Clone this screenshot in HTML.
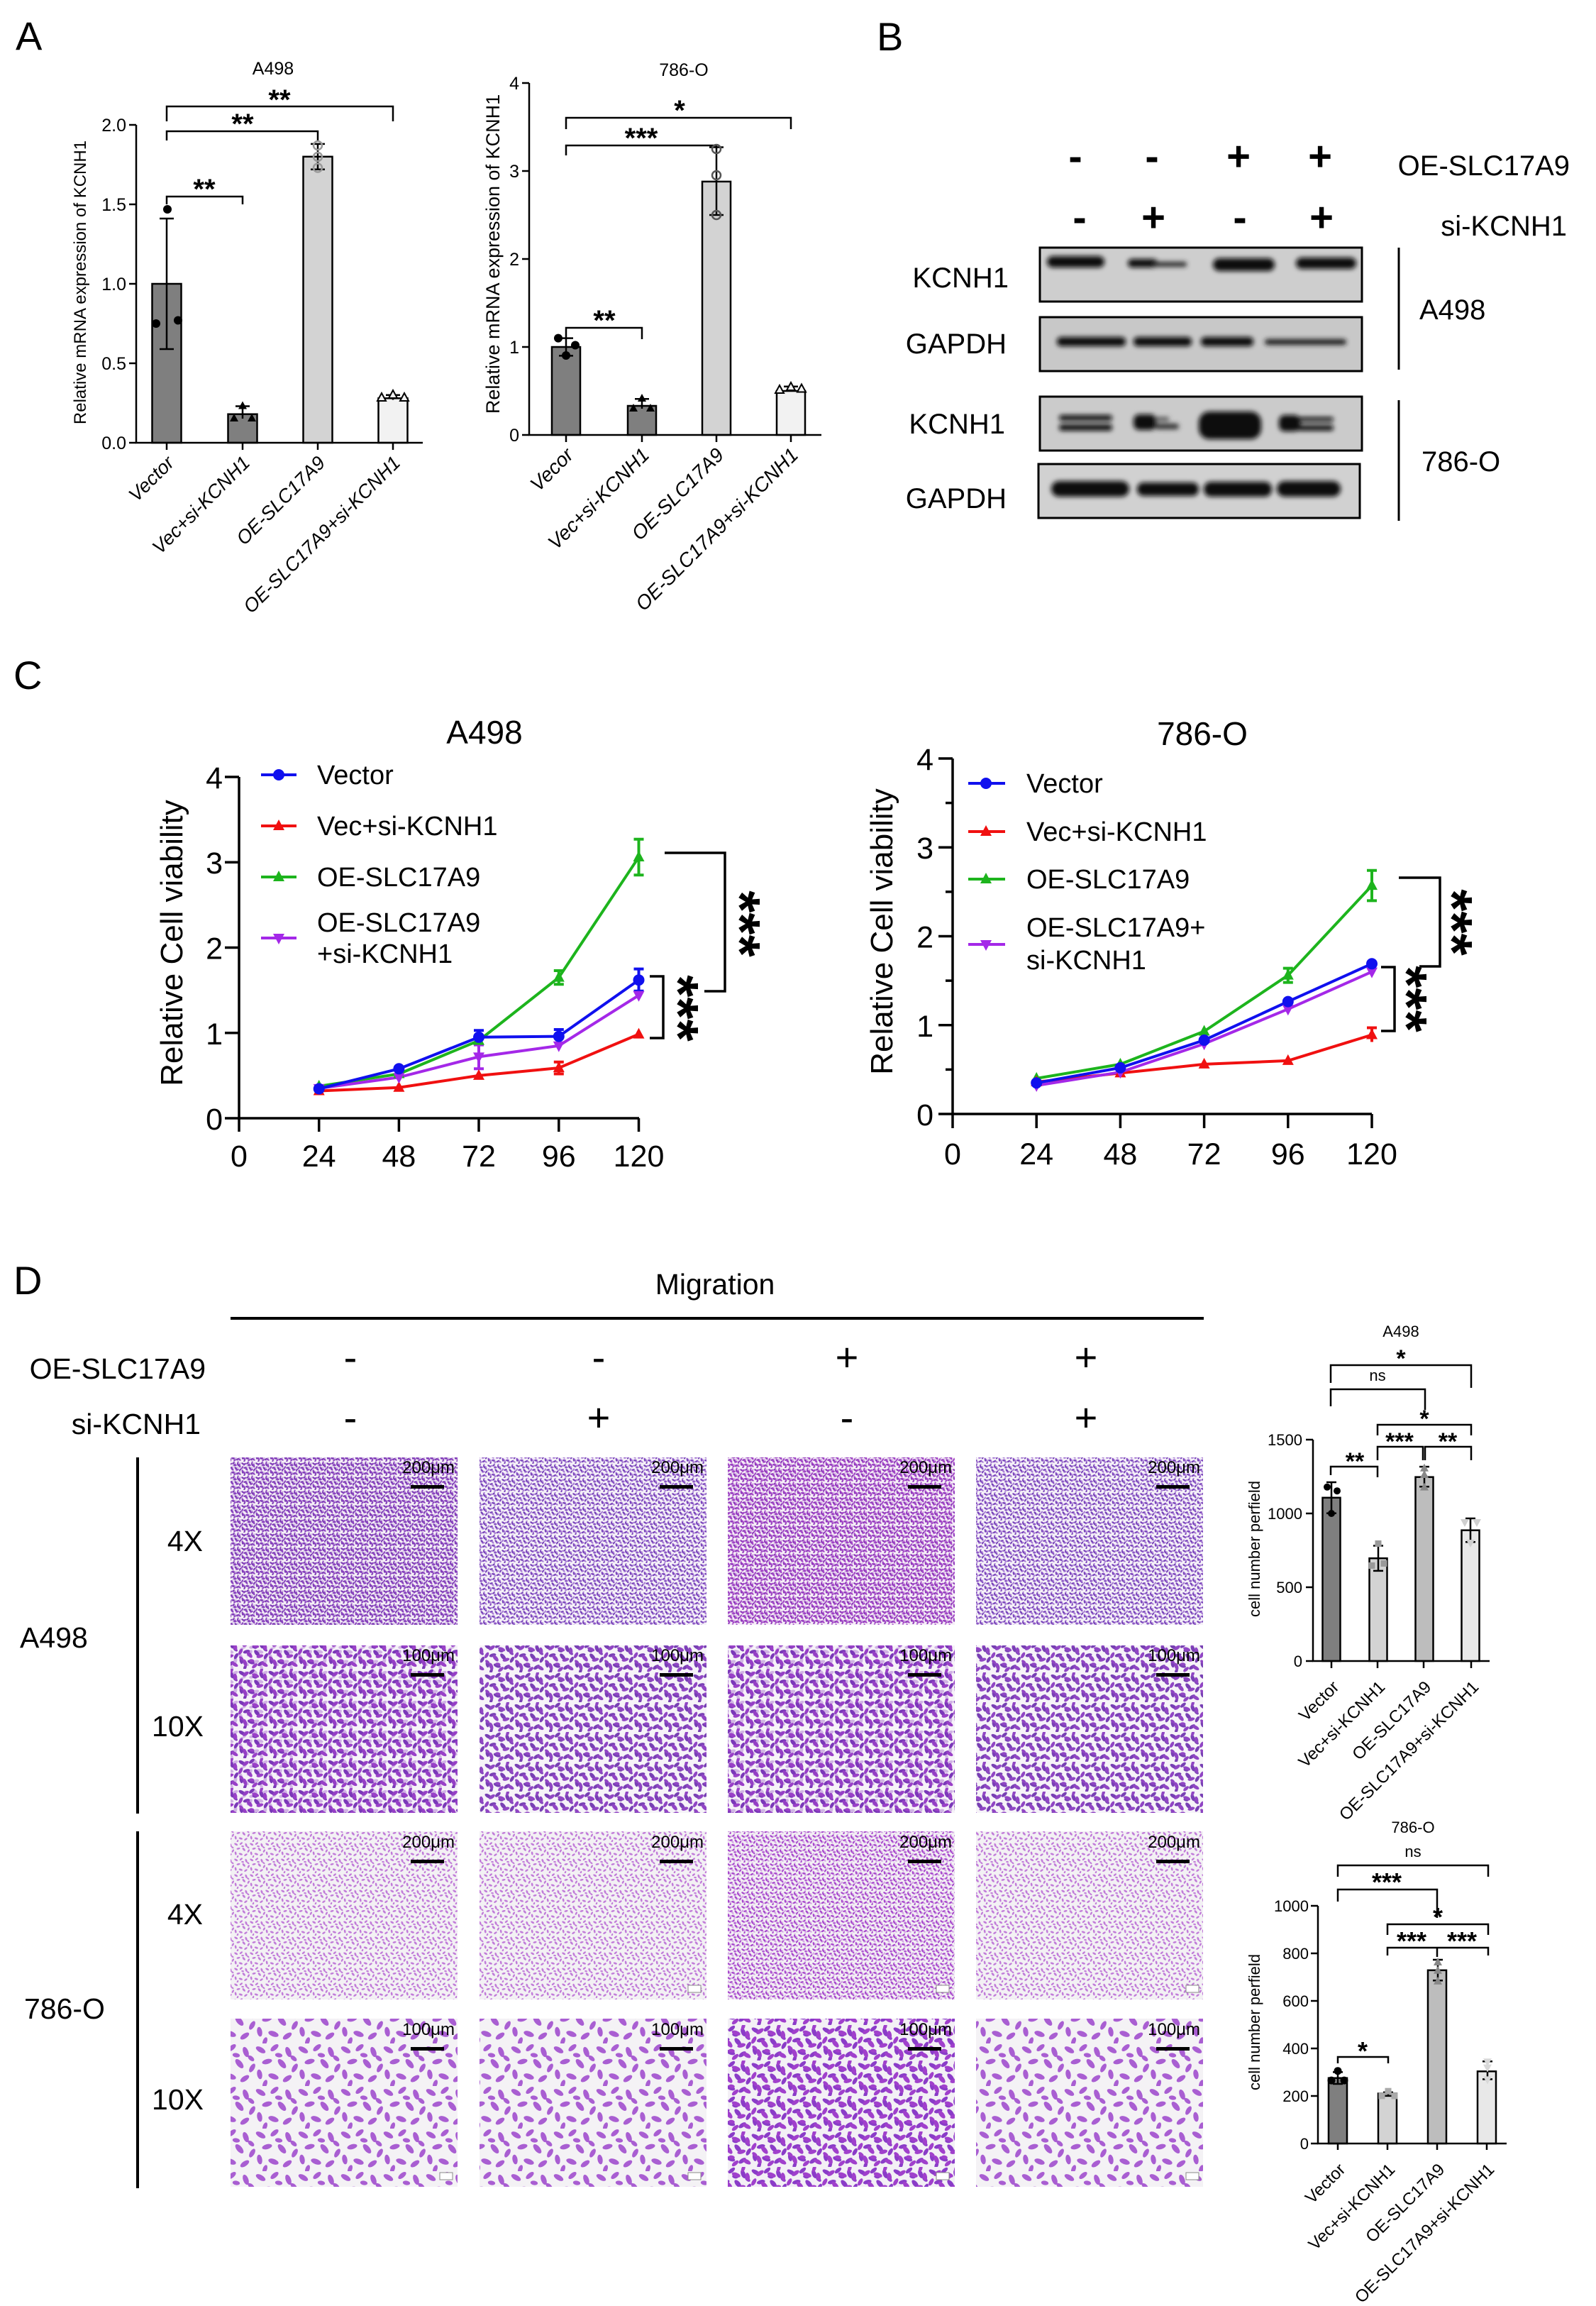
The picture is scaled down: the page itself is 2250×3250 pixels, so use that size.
<!DOCTYPE html>
<html><head><meta charset="utf-8"><style>
html,body{margin:0;padding:0;background:#fff}
svg{display:block}
text{font-family:"Liberation Sans",Arial,sans-serif;fill:#000}
</style></head><body>
<svg xmlns="http://www.w3.org/2000/svg" width="2250" height="3250" viewBox="0 0 2250 3250">
<defs>
<filter id="bl" x="-10%" y="-100%" width="120%" height="300%"><feGaussianBlur stdDeviation="3.5"/></filter>
<path id="tu" d="M0,-9 L8,6 L-8,6Z"/>
<path id="td" d="M0,9 L8,-6 L-8,-6Z"/>
<path id="ts" d="M0,-7 L6,4 L-6,4Z"/>
<path id="tds" d="M0,7 L6,-4 L-6,-4Z"/>
<g id="cl">
<ellipse cx="5" cy="6" rx="5" ry="2.4" transform="rotate(30 5 6)"/>
<ellipse cx="18" cy="4" rx="4.5" ry="2.2" transform="rotate(-40 18 4)"/>
<ellipse cx="31" cy="8" rx="5" ry="2.5" transform="rotate(70 31 8)"/>
<ellipse cx="11" cy="17" rx="4.8" ry="2.3" transform="rotate(-15 11 17)"/>
<ellipse cx="25" cy="19" rx="5.2" ry="2.6" transform="rotate(50 25 19)"/>
<ellipse cx="37" cy="23" rx="4.5" ry="2.2" transform="rotate(-60 37 23)"/>
<ellipse cx="4" cy="29" rx="4.6" ry="2.4" transform="rotate(80 4 29)"/>
<ellipse cx="17" cy="31" rx="5" ry="2.5" transform="rotate(20 17 31)"/>
<ellipse cx="30" cy="33" rx="4.8" ry="2.3" transform="rotate(-35 30 33)"/>
<ellipse cx="22" cy="11" rx="3.5" ry="2" transform="rotate(10 22 11)"/>
<ellipse cx="9" cy="38" rx="4" ry="2" transform="rotate(-70 9 38)"/>
<ellipse cx="36" cy="14" rx="3.5" ry="2" transform="rotate(40 36 14)"/>
</g>
<pattern id="pA4" width="40" height="40" patternUnits="userSpaceOnUse" patternTransform="scale(0.5)">
<rect width="40" height="40" fill="#f5eff7"/>
<use href="#cl" fill="#7b3bb4"/>
<use href="#cl" fill="#8e46c2" transform="matrix(-1,0,0,-1,40,40)"/>
<use href="#cl" fill="#7a3cb4" fill-opacity="0.3" transform="matrix(-1,0,0,1,40,0)"/>
</pattern>
<pattern id="pA4L" width="40" height="40" patternUnits="userSpaceOnUse" patternTransform="translate(7,3) scale(0.5)">
<rect width="40" height="40" fill="#f5f1f8"/>
<use href="#cl" fill="#7642b8"/>
<use href="#cl" fill="#8a50c6" fill-opacity="0.7" transform="matrix(-1,0,0,-1,40,40)"/>
</pattern>
<pattern id="pA4M" width="40" height="40" patternUnits="userSpaceOnUse" patternTransform="translate(3,9) scale(0.5)">
<rect width="40" height="40" fill="#f6eff7"/>
<use href="#cl" fill="#8a36b8"/>
<use href="#cl" fill="#a446c8" transform="matrix(-1,0,0,-1,40,40)"/>
<use href="#cl" fill="#9a40c0" fill-opacity="0.4" transform="matrix(-1,0,0,1,40,0)"/>
</pattern>
<pattern id="pA10" width="40" height="40" patternUnits="userSpaceOnUse" patternTransform="scale(1.05)">
<rect width="40" height="40" fill="#f6f2f8"/>
<use href="#cl" fill="#7a38b8"/>
<use href="#cl" fill="#9a40c8" transform="matrix(-1,0,0,-1,40,40)"/>
<use href="#cl" fill="#8a3cc0" fill-opacity="0.35" transform="matrix(-1,0,0,1,40,0)"/>
</pattern>
<pattern id="pA10L" width="40" height="40" patternUnits="userSpaceOnUse" patternTransform="translate(11,5) scale(1.05)">
<rect width="40" height="40" fill="#f6f3f8"/>
<use href="#cl" fill="#7840b4"/>
<use href="#cl" fill="#9046c4" transform="matrix(-1,0,0,-1,40,40)"/>
</pattern>
<pattern id="pB4" width="40" height="40" patternUnits="userSpaceOnUse" patternTransform="scale(0.55)">
<rect width="40" height="40" fill="#f3f1f4"/>
<use href="#cl" fill="#b055d0" fill-opacity="0.75"/>
</pattern>
<pattern id="pB4c" width="40" height="40" patternUnits="userSpaceOnUse" patternTransform="translate(5,5) scale(0.5)">
<rect width="40" height="40" fill="#f3f0f4"/>
<use href="#cl" fill="#a646cc"/>
<use href="#cl" fill="#b050d0" fill-opacity="0.45" transform="matrix(-1,0,0,-1,40,40)"/>
</pattern>
<pattern id="pB10" width="40" height="40" patternUnits="userSpaceOnUse" patternTransform="scale(1.5)">
<rect width="40" height="40" fill="#f4f2f5"/>
<use href="#cl" fill="#9c44cc" fill-opacity="0.85"/>
</pattern>
<pattern id="pB10c" width="40" height="40" patternUnits="userSpaceOnUse" patternTransform="translate(9,4) scale(1.25)">
<rect width="40" height="40" fill="#f3f0f5"/>
<use href="#cl" fill="#8a3cc8"/>
<use href="#cl" fill="#a040cc" transform="matrix(-1,0,0,-1,40,40)"/>
</pattern>
</defs>
<rect width="2250" height="3250" fill="#fff"/>

<!-- Panel letters -->
<text x="22" y="70" font-size="56">A</text>
<text x="1236" y="71" font-size="56">B</text>
<text x="19" y="971" font-size="56">C</text>
<text x="19" y="1824" font-size="56">D</text>

<!-- ============ Panel A left (A498) ============ -->
<text x="385" y="105" font-size="25" text-anchor="middle">A498</text>
<text transform="translate(121,398) rotate(-90)" font-size="24" text-anchor="middle">Relative mRNA expression of KCNH1</text>
<g font-size="25" text-anchor="end">
<text x="178" y="185">2.0</text><text x="178" y="297">1.5</text><text x="178" y="409">1.0</text><text x="178" y="521">0.5</text><text x="178" y="633">0.0</text>
</g>
<g stroke="#000" stroke-width="2.5">
<rect x="214.5" y="400" width="41" height="224" fill="#7f7f7f"/>
<rect x="321.5" y="583.7" width="41" height="40.3" fill="#7f7f7f"/>
<rect x="427.5" y="220.8" width="41" height="403.2" fill="#d3d3d3"/>
<rect x="533.5" y="561.3" width="41" height="62.7" fill="#f2f2f2"/>
</g>
<g stroke="#000" stroke-width="2.5" fill="none">
<path d="M192,176 V624 H596"/>
<path d="M182,176 H192 M182,288 H192 M182,400 H192 M182,512 H192 M182,624 H192"/>
<path d="M235,624 V634 M342,624 V634 M448,624 V634 M554,624 V634"/>
<path d="M235,308 V492 M225,308 H245 M225,492 H245"/>
<path d="M342,572.5 V590 M332,572.5 H352"/>
<path d="M448,202.9 V238.7 M438,202.9 H458 M438,238.7 H458"/>
<path d="M554,556.8 V563.5 M544,556.8 H564"/>
<path d="M235,288 V277 H342 V288"/>
<path d="M235,198 V185 H448 V199"/>
<path d="M235,171 V150 H554 V171"/>
</g>
<g fill="#000">
<circle cx="236" cy="295" r="6"/><circle cx="220" cy="456" r="6"/><circle cx="251" cy="451.5" r="6"/>
<use href="#ts" x="342" y="572.5"/><use href="#ts" x="330" y="590"/><use href="#ts" x="355" y="590"/>
</g>
<g fill="none" stroke="#999" stroke-width="2.5">
<circle cx="448" cy="205" r="6"/><circle cx="448" cy="221" r="6"/><circle cx="448" cy="236.5" r="6"/>
</g>
<g fill="#f2f2f2" stroke="#000" stroke-width="2">
<use href="#ts" x="538" y="561"/><use href="#ts" x="554" y="557"/><use href="#ts" x="570" y="561"/>
</g>
<g font-size="40" font-weight="bold" text-anchor="middle">
<text x="288" y="280">**</text><text x="342" y="188">**</text><text x="394" y="154">**</text>
</g>
<g font-size="27" font-style="italic" text-anchor="end">
<text transform="translate(247,654) rotate(-45)">Vector</text>
<text transform="translate(354,654) rotate(-45)">Vec+si-KCNH1</text>
<text transform="translate(460,654) rotate(-45)">OE-SLC17A9</text>
<text transform="translate(566,654) rotate(-45)">OE-SLC17A9+si-KCNH1</text>
</g>

<!-- ============ Panel A right (786-O) ============ -->
<text x="964" y="107" font-size="25" text-anchor="middle">786-O</text>
<text transform="translate(704,358) rotate(-90)" font-size="27" text-anchor="middle">Relative mRNA expression of KCNH1</text>
<g font-size="25" text-anchor="end">
<text x="732" y="126">4</text><text x="732" y="250">3</text><text x="732" y="374">2</text><text x="732" y="498">1</text><text x="732" y="622">0</text>
</g>
<g stroke="#000" stroke-width="2.5">
<rect x="778" y="489" width="40" height="124" fill="#7f7f7f"/>
<rect x="885" y="572" width="40" height="41" fill="#7f7f7f"/>
<rect x="990" y="255.9" width="40" height="357.1" fill="#d3d3d3"/>
<rect x="1095" y="551" width="40" height="62" fill="#f2f2f2"/>
</g>
<g stroke="#000" stroke-width="2.5" fill="none">
<path d="M746,117 V613 H1158"/>
<path d="M736,117 H746 M736,241 H746 M736,365 H746 M736,489 H746 M736,613 H746"/>
<path d="M798,613 V623 M905,613 V623 M1010,613 V623 M1115,613 V623"/>
<path d="M798,476.6 V501.4 M788,476.6 H808 M788,501.4 H808"/>
<path d="M905,562.2 V576 M895,562.2 H915"/>
<path d="M1010,207.5 V303 M1000,207.5 H1020 M1000,303 H1020"/>
<path d="M1115,544.8 V551 M1105,544.8 H1125"/>
<path d="M798,478 V462 H905 V478"/>
<path d="M798,219 V205 H1010 V207"/>
<path d="M798,182 V166 H1115 V182"/>
</g>
<g fill="#000">
<circle cx="787" cy="476.6" r="6"/><circle cx="798" cy="501" r="6"/><circle cx="811" cy="486.5" r="6"/>
<use href="#ts" x="905" y="562"/><use href="#ts" x="893" y="576"/><use href="#ts" x="917" y="576"/>
</g>
<g fill="none" stroke="#555" stroke-width="2.5">
<circle cx="1010" cy="210" r="6"/><circle cx="1010" cy="247" r="6"/><circle cx="1010" cy="303" r="6"/>
</g>
<g fill="#f2f2f2" stroke="#000" stroke-width="2">
<use href="#ts" x="1099" y="550"/><use href="#ts" x="1115" y="546"/><use href="#ts" x="1130" y="548.5"/>
</g>
<g font-size="40" font-weight="bold" text-anchor="middle">
<text x="852" y="465">**</text><text x="904" y="208">***</text><text x="958" y="169">*</text>
</g>
<g font-size="28" font-style="italic" text-anchor="end">
<text transform="translate(810,643) rotate(-45)">Vecor</text>
<text transform="translate(917,643) rotate(-45)">Vec+si-KCNH1</text>
<text transform="translate(1022,643) rotate(-45)">OE-SLC17A9</text>
<text transform="translate(1127,643) rotate(-45)">OE-SLC17A9+si-KCNH1</text>
</g>

<!-- ============ Panel B ============ -->
<g font-size="58" font-weight="bold" text-anchor="middle">
<text x="1516" y="240">-</text><text x="1624" y="240">-</text><text x="1746" y="240">+</text><text x="1861" y="240">+</text>
<text x="1522" y="326">-</text><text x="1626" y="326">+</text><text x="1748" y="326">-</text><text x="1863" y="326">+</text>
</g>
<g font-size="40">
<text x="2213" y="247" text-anchor="end">OE-SLC17A9</text>
<text x="2209" y="332" text-anchor="end">si-KCNH1</text>
<text x="1422" y="405" text-anchor="end">KCNH1</text>
<text x="1419" y="498" text-anchor="end">GAPDH</text>
<text x="1417" y="611" text-anchor="end">KCNH1</text>
<text x="1419" y="716" text-anchor="end">GAPDH</text>
<text x="2001" y="450">A498</text>
<text x="2004" y="664">786-O</text>
</g>
<g stroke="#000" stroke-width="3">
<rect x="1466" y="349" width="454" height="76" fill="#cecece"/>
<rect x="1466" y="447" width="454" height="76" fill="#c8c8c8"/>
<rect x="1466" y="559" width="454" height="76" fill="#cbcbcb"/>
<rect x="1464" y="654" width="453" height="76" fill="#d1d1d1"/>
<path d="M1972,349 V521 M1972,564 V734" fill="none"/>
</g>
<g filter="url(#bl)" fill="#0c0c0c">
<rect x="1476" y="361" width="81" height="16" rx="8"/>
<rect x="1590" y="365" width="42" height="12" rx="6"/>
<rect x="1625" y="369" width="48" height="7" rx="3" fill="#2a2a2a"/>
<rect x="1710" y="364" width="87" height="18" rx="9"/>
<rect x="1827" y="363" width="85" height="16" rx="8"/>
</g>
<g filter="url(#bl)" fill="#0c0c0c">
<rect x="1490" y="475" width="97" height="13" rx="6"/>
<rect x="1598" y="475" width="82" height="13" rx="6"/>
<rect x="1693" y="475" width="74" height="13" rx="6"/>
<rect x="1783" y="478" width="115" height="8" rx="4" fill="#1a1a1a"/>
</g>
<g filter="url(#bl)" fill="#0c0c0c">
<rect x="1493" y="585" width="75" height="8" rx="4"/>
<rect x="1493" y="598" width="75" height="9" rx="4"/>
<rect x="1598" y="584" width="32" height="22" rx="8"/>
<rect x="1628" y="597" width="34" height="8" rx="4" fill="#333"/>
<rect x="1628" y="588" width="20" height="5" rx="2" fill="#444"/>
<rect x="1690" y="580" width="88" height="39" rx="15"/>
<rect x="1803" y="585" width="30" height="23" rx="8"/>
<rect x="1828" y="588" width="52" height="6" rx="3"/>
<rect x="1828" y="599" width="52" height="8" rx="4"/>
</g>
<g filter="url(#bl)" fill="#0c0c0c">
<rect x="1482" y="678" width="110" height="22" rx="11"/>
<rect x="1603" y="680" width="87" height="19" rx="9"/>
<rect x="1697" y="679" width="96" height="21" rx="10"/>
<rect x="1800" y="678" width="90" height="22" rx="11"/>
</g>

<!-- ============ Panel C left (A498) ============ -->
<text x="683" y="1048" font-size="46" text-anchor="middle">A498</text>
<text transform="translate(257,1329) rotate(-90)" font-size="44" text-anchor="middle">Relative Cell viability</text>
<g font-size="43" text-anchor="end">
<text x="314" y="1111">4</text><text x="314" y="1231">3</text><text x="314" y="1351.5">2</text><text x="314" y="1472">1</text><text x="314" y="1592">0</text>
</g>
<g font-size="43" text-anchor="middle">
<text x="337" y="1644">0</text><text x="449.7" y="1644">24</text><text x="562.4" y="1644">48</text><text x="675" y="1644">72</text><text x="787.8" y="1644">96</text><text x="900.5" y="1644">120</text>
</g>
<g stroke="#000" stroke-width="3.5" fill="none">
<path d="M337,1095 V1576 H901"/>
<path d="M317,1095 H337 M317,1215.25 H337 M317,1335.5 H337 M317,1455.75 H337 M317,1576 H337"/>
<path d="M337,1576 V1595 M449.7,1576 V1595 M562.4,1576 V1595 M675,1576 V1595 M787.8,1576 V1595 M900.5,1576 V1595"/>
<path d="M937,1202 H1022 V1397 H993"/>
<path d="M916,1376 H935 V1463 H916"/>
</g>
<g font-size="80" font-weight="bold" text-anchor="middle">
<text transform="translate(1016,1302) rotate(90)">***</text>
<text transform="translate(929,1421) rotate(90)">***</text>
</g>
<g stroke-width="4">
<line x1="368" y1="1092" x2="418" y2="1092" stroke="#1010ee"/>
<line x1="368" y1="1164" x2="418" y2="1164" stroke="#f01010"/>
<line x1="368" y1="1236" x2="418" y2="1236" stroke="#1db41d"/>
<line x1="368" y1="1322" x2="418" y2="1322" stroke="#a428e8"/>
</g>
<circle cx="393" cy="1092" r="8" fill="#1010ee"/>
<use href="#tu" x="393" y="1164" fill="#f01010"/>
<use href="#tu" x="393" y="1236" fill="#1db41d"/>
<use href="#td" x="393" y="1322" fill="#a428e8"/>
<g font-size="38">
<text x="447" y="1105">Vector</text><text x="447" y="1177">Vec+si-KCNH1</text><text x="447" y="1249">OE-SLC17A9</text>
<text x="447" y="1313">OE-SLC17A9</text><text x="447" y="1357">+si-KCNH1</text>
</g>
<g fill="none" stroke-width="4">
<path stroke="#1db41d" d="M449.7,1530.9 L562.4,1513.5 L675,1466.6 L787.8,1377.6 L900.5,1208 M787.8,1368 V1387.2 M780.8,1368 H794.8 M780.8,1387.2 H794.8 M900.5,1182.7 V1233.3 M893.5,1182.7 H907.5 M893.5,1233.3 H907.5"/>
<path stroke="#f01010" d="M449.7,1537.5 L562.4,1532.7 L675,1515.9 L787.8,1505.1 L900.5,1457.6 M787.8,1496.7 V1513.5 M780.8,1496.7 H794.8 M780.8,1513.5 H794.8"/>
<path stroke="#a428e8" d="M449.7,1533.9 L562.4,1518.3 L675,1489.4 L787.8,1473.8 L900.5,1402.8 M675,1472.6 V1506.2 M668,1472.6 H682 M668,1506.2 H682"/>
<path stroke="#1010ee" d="M449.7,1534.5 L562.4,1506.3 L675,1461.8 L787.8,1460.6 L900.5,1381.2 M675,1452.2 V1471.4 M668,1452.2 H682 M787.8,1451 V1470.2 M780.8,1451 H794.8 M900.5,1365.6 V1396.8 M893.5,1365.6 H907.5 M893.5,1396.8 H907.5"/>
</g>
<g fill="#1db41d"><use href="#tu" x="449.7" y="1530.9"/><use href="#tu" x="562.4" y="1513.5"/><use href="#tu" x="675" y="1466.6"/><use href="#tu" x="787.8" y="1377.6"/><use href="#tu" x="900.5" y="1208"/></g>
<g fill="#f01010"><use href="#tu" x="449.7" y="1537.5"/><use href="#tu" x="562.4" y="1532.7"/><use href="#tu" x="675" y="1515.9"/><use href="#tu" x="787.8" y="1505.1"/><use href="#tu" x="900.5" y="1457.6"/></g>
<g fill="#a428e8"><use href="#td" x="449.7" y="1533.9"/><use href="#td" x="562.4" y="1518.3"/><use href="#td" x="675" y="1489.4"/><use href="#td" x="787.8" y="1473.8"/><use href="#td" x="900.5" y="1402.8"/></g>
<g fill="#1010ee"><circle cx="449.7" cy="1534.5" r="8"/><circle cx="562.4" cy="1506.3" r="8"/><circle cx="675" cy="1461.8" r="8"/><circle cx="787.8" cy="1460.6" r="8"/><circle cx="900.5" cy="1381.2" r="8"/></g>

<!-- ============ Panel C right (786-O) ============ -->
<text x="1695" y="1050" font-size="46" text-anchor="middle">786-O</text>
<text transform="translate(1258,1313) rotate(-90)" font-size="44" text-anchor="middle">Relative Cell viability</text>
<g font-size="43" text-anchor="end">
<text x="1316" y="1085">4</text><text x="1316" y="1210">3</text><text x="1316" y="1335.5">2</text><text x="1316" y="1461">1</text><text x="1316" y="1586">0</text>
</g>
<g font-size="43" text-anchor="middle">
<text x="1343" y="1641">0</text><text x="1461.2" y="1641">24</text><text x="1579.4" y="1641">48</text><text x="1697.6" y="1641">72</text><text x="1815.8" y="1641">96</text><text x="1934" y="1641">120</text>
</g>
<g stroke="#000" stroke-width="3.5" fill="none">
<path d="M1343,1069 V1570 H1934"/>
<path d="M1323,1069 H1343 M1323,1194.25 H1343 M1323,1319.5 H1343 M1323,1444.75 H1343 M1323,1570 H1343"/>
<path d="M1333,1131.6 H1343 M1333,1256.9 H1343 M1333,1382.1 H1343 M1333,1507.4 H1343"/>
<path d="M1343,1570 V1590 M1461.2,1570 V1590 M1579.4,1570 V1590 M1697.6,1570 V1590 M1815.8,1570 V1590 M1934,1570 V1590"/>
<path d="M1972,1237 H2030 V1362 H2001"/>
<path d="M1947,1363 H1966 V1453 H1947"/>
</g>
<g font-size="80" font-weight="bold" text-anchor="middle">
<text transform="translate(2020,1300) rotate(90)">***</text>
<text transform="translate(1956,1408) rotate(90)">***</text>
</g>
<g stroke-width="4">
<line x1="1365" y1="1104" x2="1417" y2="1104" stroke="#1010ee"/>
<line x1="1365" y1="1172" x2="1417" y2="1172" stroke="#f01010"/>
<line x1="1365" y1="1239" x2="1417" y2="1239" stroke="#1db41d"/>
<line x1="1365" y1="1331" x2="1417" y2="1331" stroke="#a428e8"/>
</g>
<circle cx="1390" cy="1104" r="8" fill="#1010ee"/>
<use href="#tu" x="1390" y="1172" fill="#f01010"/>
<use href="#tu" x="1390" y="1239" fill="#1db41d"/>
<use href="#td" x="1390" y="1331" fill="#a428e8"/>
<g font-size="38">
<text x="1447" y="1117">Vector</text><text x="1447" y="1185">Vec+si-KCNH1</text><text x="1447" y="1252">OE-SLC17A9</text>
<text x="1447" y="1320">OE-SLC17A9+</text><text x="1447" y="1366">si-KCNH1</text>
</g>
<g fill="none" stroke-width="4">
<path stroke="#1db41d" d="M1461.2,1519.9 L1579.4,1499.9 L1697.6,1453.5 L1815.8,1374.6 L1934,1248.1 M1815.8,1364.6 V1384.6 M1808.8,1364.6 H1822.8 M1808.8,1384.6 H1822.8 M1934,1226.8 V1269.4 M1927,1226.8 H1941 M1927,1269.4 H1941"/>
<path stroke="#f01010" d="M1461.2,1524.9 L1579.4,1512.4 L1697.6,1499.9 L1815.8,1494.9 L1934,1458.5 M1934,1448.5 V1468.5 M1927,1448.5 H1941"/>
<path stroke="#a428e8" d="M1461.2,1529.9 L1579.4,1511.1 L1697.6,1471.1 L1815.8,1422.2 L1934,1369.6"/>
<path stroke="#1010ee" d="M1461.2,1526.2 L1579.4,1504.9 L1697.6,1466 L1815.8,1411.6 L1934,1358.3"/>
</g>
<g fill="#1db41d"><use href="#tu" x="1461.2" y="1519.9"/><use href="#tu" x="1579.4" y="1499.9"/><use href="#tu" x="1697.6" y="1453.5"/><use href="#tu" x="1815.8" y="1374.6"/><use href="#tu" x="1934" y="1248.1"/></g>
<g fill="#f01010"><use href="#tu" x="1461.2" y="1524.9"/><use href="#tu" x="1579.4" y="1512.4"/><use href="#tu" x="1697.6" y="1499.9"/><use href="#tu" x="1815.8" y="1494.9"/><use href="#tu" x="1934" y="1458.5"/></g>
<g fill="#a428e8"><use href="#td" x="1461.2" y="1529.9"/><use href="#td" x="1579.4" y="1511.1"/><use href="#td" x="1697.6" y="1471.1"/><use href="#td" x="1815.8" y="1422.2"/><use href="#td" x="1934" y="1369.6"/></g>
<g fill="#1010ee"><circle cx="1461.2" cy="1526.2" r="8"/><circle cx="1579.4" cy="1504.9" r="8"/><circle cx="1697.6" cy="1466" r="8"/><circle cx="1815.8" cy="1411.6" r="8"/><circle cx="1934" cy="1358.3" r="8"/></g>

<!-- ============ Panel D ============ -->
<text x="1008" y="1824" font-size="41" text-anchor="middle">Migration</text>
<line x1="325" y1="1858" x2="1697" y2="1858" stroke="#000" stroke-width="4"/>
<g font-size="41" text-anchor="end">
<text x="290" y="1943">OE-SLC17A9</text>
<text x="283" y="2021">si-KCNH1</text>
<text x="286" y="2186">4X</text>
<text x="287" y="2447">10X</text>
<text x="286" y="2712">4X</text>
<text x="287" y="2973">10X</text>
</g>
<text x="28" y="2322" font-size="41">A498</text>
<text x="34" y="2845" font-size="41">786-O</text>
<g font-size="56" text-anchor="middle">
<text x="494" y="1932">-</text><text x="844" y="1932">-</text><text x="1194" y="1932">+</text><text x="1531" y="1932">+</text>
<text x="494" y="2017">-</text><text x="844" y="2017">+</text><text x="1194" y="2017">-</text><text x="1531" y="2017">+</text>
</g>
<path d="M194,2054 V2556 M194,2581 V3084" stroke="#000" stroke-width="4" fill="none"/>

<rect x="325" y="2054" width="320" height="236" fill="url(#pA4)"/>
<rect x="676" y="2054" width="320" height="236" fill="url(#pA4L)"/>
<rect x="1026" y="2054" width="320" height="236" fill="url(#pA4M)"/>
<rect x="1376" y="2054" width="320" height="236" fill="url(#pA4L)"/>
<rect x="325" y="2319" width="320" height="236" fill="url(#pA10)"/>
<rect x="676" y="2319" width="320" height="236" fill="url(#pA10L)"/>
<rect x="1026" y="2319" width="320" height="236" fill="url(#pA10)"/>
<rect x="1376" y="2319" width="320" height="236" fill="url(#pA10L)"/>
<rect x="325" y="2581" width="320" height="237" fill="url(#pB4)"/>
<rect x="676" y="2581" width="320" height="237" fill="url(#pB4)"/>
<rect x="1026" y="2581" width="320" height="237" fill="url(#pB4c)"/>
<rect x="1376" y="2581" width="320" height="237" fill="url(#pB4)"/>
<rect x="325" y="2845" width="320" height="237" fill="url(#pB10)"/>
<rect x="676" y="2845" width="320" height="237" fill="url(#pB10)"/>
<rect x="1026" y="2845" width="320" height="237" fill="url(#pB10c)"/>
<rect x="1376" y="2845" width="320" height="237" fill="url(#pB10)"/>
<g fill="#fff" stroke="#888" stroke-width="1">
<rect x="970" y="2798" width="18" height="10"/>
<rect x="1320" y="2798" width="18" height="10"/>
<rect x="1672" y="2798" width="18" height="10"/>
<rect x="620" y="3062" width="18" height="10"/>
<rect x="970" y="3062" width="18" height="10"/>
<rect x="1320" y="3062" width="18" height="10"/>
<rect x="1672" y="3062" width="18" height="10"/>
</g>
<g font-size="24" text-anchor="end">
<text x="641" y="2076">200μm</text><text x="992" y="2076">200μm</text><text x="1342" y="2076">200μm</text><text x="1692" y="2076">200μm</text>
<text x="641" y="2341">100μm</text><text x="992" y="2341">100μm</text><text x="1342" y="2341">100μm</text><text x="1692" y="2341">100μm</text>
<text x="641" y="2604">200μm</text><text x="992" y="2604">200μm</text><text x="1342" y="2604">200μm</text><text x="1692" y="2604">200μm</text>
<text x="641" y="2868">100μm</text><text x="992" y="2868">100μm</text><text x="1342" y="2868">100μm</text><text x="1692" y="2868">100μm</text>
</g>
<g fill="#000">
<rect x="579" y="2093" width="47" height="5"/><rect x="930" y="2093" width="47" height="5"/><rect x="1280" y="2093" width="47" height="5"/><rect x="1630" y="2093" width="47" height="5"/>
<rect x="579" y="2358" width="47" height="5"/><rect x="930" y="2358" width="47" height="5"/><rect x="1280" y="2358" width="47" height="5"/><rect x="1630" y="2358" width="47" height="5"/>
<rect x="579" y="2621" width="47" height="5"/><rect x="930" y="2621" width="47" height="5"/><rect x="1280" y="2621" width="47" height="5"/><rect x="1630" y="2621" width="47" height="5"/>
<rect x="579" y="2885" width="47" height="5"/><rect x="930" y="2885" width="47" height="5"/><rect x="1280" y="2885" width="47" height="5"/><rect x="1630" y="2885" width="47" height="5"/>
</g>

<!-- D chart A498 -->
<text x="1975" y="1884" font-size="22" text-anchor="middle">A498</text>
<text transform="translate(1776,2183) rotate(-90)" font-size="22" text-anchor="middle">cell number perfield</text>
<g font-size="22" text-anchor="end">
<text x="1836" y="2037">1500</text><text x="1836" y="2141">1000</text><text x="1836" y="2245">500</text><text x="1836" y="2349">0</text>
</g>
<g stroke="#000" stroke-width="2.5">
<rect x="1864.5" y="2110.8" width="25" height="230.2" fill="#7f7f7f"/>
<rect x="1930.5" y="2196.2" width="25" height="144.8" fill="#d3d3d3"/>
<rect x="1995.5" y="2081.7" width="25" height="259.3" fill="#bdbdbd"/>
<rect x="2060.5" y="2156.7" width="25" height="184.3" fill="#e8e8e8"/>
</g>
<g stroke="#000" stroke-width="2.5" fill="none">
<path d="M1851,2029 V2341 H2100"/>
<path d="M1841,2029 H1851 M1841,2133 H1851 M1841,2237 H1851 M1841,2341 H1851"/>
<path d="M1877,2341 V2351 M1942,2341 V2351 M2007,2341 V2351 M2074,2341 V2351"/>
<path d="M1877,2089 V2132.7 M1870,2089 H1884 M1870,2132.7 H1884"/>
<path d="M1943,2178.5 V2213.9 M1936,2178.5 H1950 M1936,2213.9 H1950"/>
<path d="M2008,2067.1 V2095.2 M2001,2067.1 H2015 M2001,2095.2 H2015"/>
<path d="M2073,2140 V2173.3 M2066,2140 H2080 M2066,2173.3 H2080"/>
<path d="M1876,1949 V1924 H2074 V1956"/>
<path d="M1876,1982 V1958 H2009 V1987"/>
<path d="M1942,2023 V2008 H2074 V2023"/>
<path d="M1942,2058 V2039 H2006 V2058"/>
<path d="M2009,2058 V2039 H2074 V2058"/>
<path d="M1876,2079 V2067 H1942 V2082"/>
</g>
<g fill="#000"><circle cx="1871" cy="2095.8" r="5"/><circle cx="1885" cy="2101.2" r="5"/><circle cx="1877" cy="2133" r="5"/></g>
<g fill="#999"><rect x="1938.5" y="2171" width="9" height="9"/><rect x="1929.5" y="2202" width="9" height="9"/><rect x="1946.5" y="2199" width="9" height="9"/></g>
<g fill="#888"><use href="#ts" x="2008" y="2069.8"/><use href="#ts" x="2008" y="2079"/><use href="#ts" x="2008" y="2096.6"/></g>
<g fill="#cfcfcf"><use href="#tds" x="2065" y="2145"/><use href="#tds" x="2082" y="2145"/><use href="#tds" x="2073" y="2174"/></g>
<text x="1942" y="1946" font-size="22" text-anchor="middle">ns</text>
<g font-size="34" font-weight="bold" text-anchor="middle">
<text x="1975" y="1926">*</text><text x="2008" y="2011">*</text><text x="1973" y="2043">***</text><text x="2041" y="2043">**</text><text x="1910" y="2071">**</text>
</g>
<g font-size="24" text-anchor="end">
<text transform="translate(1889,2379) rotate(-45)">Vector</text>
<text transform="translate(1954,2379) rotate(-45)">Vec+si-KCNH1</text>
<text transform="translate(2019,2379) rotate(-45)">OE-SLC17A9</text>
<text transform="translate(2086,2379) rotate(-45)">OE-SLC17A9+si-KCNH1</text>
</g>

<!-- D chart 786-O -->
<text x="1992" y="2583" font-size="22" text-anchor="middle">786-O</text>
<text transform="translate(1776,2850) rotate(-90)" font-size="22" text-anchor="middle">cell number perfield</text>
<g font-size="22" text-anchor="end">
<text x="1845" y="2694">1000</text><text x="1845" y="2761">800</text><text x="1845" y="2828">600</text><text x="1845" y="2895">400</text><text x="1845" y="2962">200</text><text x="1845" y="3029">0</text>
</g>
<g stroke="#000" stroke-width="2.5">
<rect x="1873" y="2928.7" width="26" height="92.3" fill="#7f7f7f"/>
<rect x="1943" y="2950.5" width="26" height="70.5" fill="#d3d3d3"/>
<rect x="2013" y="2776.8" width="26" height="244.2" fill="#bdbdbd"/>
<rect x="2083" y="2919.3" width="26" height="101.7" fill="#e8e8e8"/>
</g>
<g stroke="#000" stroke-width="2.5" fill="none">
<path d="M1858,2686 V3021 H2124"/>
<path d="M1848,2686 H1858 M1848,2753 H1858 M1848,2820 H1858 M1848,2887 H1858 M1848,2954 H1858 M1848,3021 H1858"/>
<path d="M1886,3021 V3030 M1956,3021 V3030 M2026,3021 V3030 M2096,3021 V3030"/>
<path d="M1886,2920.4 V2937 M1879,2920.4 H1893 M1879,2937 H1893"/>
<path d="M1957,2948.9 V2953.9 M1950,2948.9 H1964 M1950,2953.9 H1964"/>
<path d="M2027,2762 V2791.2 M2020,2762 H2034 M2020,2791.2 H2034"/>
<path d="M2097,2905.3 V2930.4 M2090,2905.3 H2104 M2090,2930.4 H2104"/>
<path d="M1886,2645 V2629 H2098 V2645"/>
<path d="M1886,2680 V2663 H2026 V2703"/>
<path d="M1956,2727 V2712 H2098 V2727"/>
<path d="M1956,2756 V2745 H2098 V2756 M2026,2745 V2758"/>
<path d="M1886,2908 V2899 H1957 V2908"/>
</g>
<g fill="#000"><circle cx="1886" cy="2918.7" r="5.5"/><circle cx="1877" cy="2932.1" r="5.5"/><circle cx="1895" cy="2932.1" r="5.5"/></g>
<g fill="#aaa"><rect x="1952.5" y="2942.7" width="9" height="9"/><rect x="1943.5" y="2949.4" width="9" height="9"/><rect x="1961.5" y="2949.4" width="9" height="9"/></g>
<g fill="#888"><use href="#ts" x="2027" y="2766"/><use href="#ts" x="2027" y="2777.8"/><use href="#ts" x="2027" y="2792.9"/></g>
<g fill="#d8d8d8"><use href="#tds" x="2097" y="2905.3"/><use href="#tds" x="2097" y="2913.6"/><use href="#tds" x="2097" y="2930.4"/></g>
<text x="1992" y="2617" font-size="22" text-anchor="middle">ns</text>
<g font-size="36" font-weight="bold" text-anchor="middle">
<text x="1955" y="2665">***</text><text x="2027" y="2714">*</text><text x="1990" y="2748">***</text><text x="2061" y="2748">***</text><text x="1921" y="2903">*</text>
</g>
<g font-size="24" text-anchor="end">
<text transform="translate(1898,3059) rotate(-45)">Vector</text>
<text transform="translate(1968,3059) rotate(-45)">Vec+si-KCNH1</text>
<text transform="translate(2038,3059) rotate(-45)">OE-SLC17A9</text>
<text transform="translate(2108,3059) rotate(-45)">OE-SLC17A9+si-KCNH1</text>
</g>
</svg>
</body></html>
